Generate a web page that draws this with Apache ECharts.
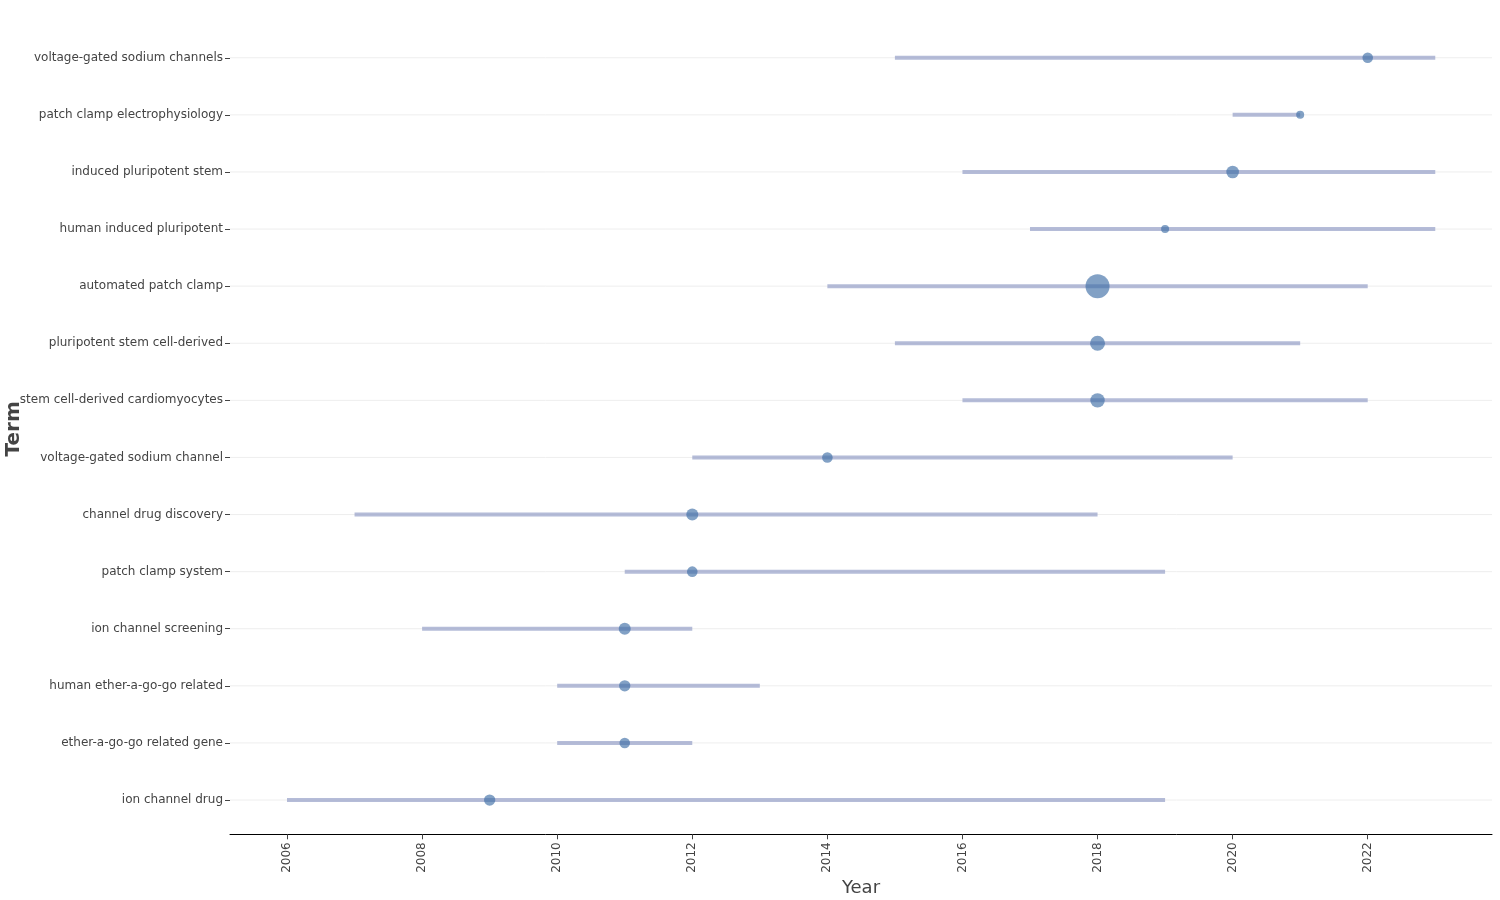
<!DOCTYPE html>
<html>
<head>
<meta charset="utf-8">
<script src="https://cdn.jsdelivr.net/npm/echarts@6/dist/echarts.min.js"></script>
<style>html,body{margin:0;padding:0;background:#fff;}#c{width:1500px;height:900px;}</style>
</head>
<body>
<div id="c"></div>
<script>
// Terms listed bottom to top
const terms = ['ion channel drug','ether-a-go-go related gene','human ether-a-go-go related','ion channel screening','patch clamp system','channel drug discovery','voltage-gated sodium channel','stem cell-derived cardiomyocytes','pluripotent stem cell-derived','automated patch clamp','human induced pluripotent','induced pluripotent stem','patch clamp electrophysiology','voltage-gated sodium channels'];
const startYear = [2006,2010,2010,2008,2011,2007,2012,2016,2015,2014,2017,2016,2020,2015];
const endYear   = [2019,2012,2013,2012,2019,2018,2020,2022,2021,2022,2023,2023,2021,2023];
const peakYear  = [2009,2011,2011,2011,2012,2012,2014,2018,2018,2018,2019,2020,2021,2022];
const peakCount = [8,7,8,9,7,9,7,13,14,36,4,10,4,7];
const yearTicks = [2006,2008,2010,2012,2014,2016,2018,2020,2022];

const FONT = 'DejaVu Sans';
const chart = echarts.init(document.getElementById('c'));
const rangeData = terms.map((t,i)=>[startYear[i], endYear[i], i]);
const peakData = terms.map((t,i)=>[peakYear[i], i, peakCount[i]]);
const yIdx = terms.map((t,i)=>i);

chart.setOption({
  animation:false,
  backgroundColor:'#fff',
  textStyle:{fontFamily:FONT},
  grid:{left:230,right:8,top:23.5,bottom:65.7,containLabel:false,outerBoundsMode:'none'},
  xAxis:{
    type:'value', min:2005.156, max:2023.84,
    name:'Year', nameLocation:'middle', nameGap:45, nameMoveOverlap:false,
    nameTextStyle:{fontSize:18,color:'#444',fontFamily:FONT},
    axisLine:{show:true,onZero:false,lineStyle:{color:'#000',width:1}},
    axisTick:{show:true,length:5,customValues:yearTicks,lineStyle:{color:'#444'}},
    axisLabel:{customValues:yearTicks,rotate:90,margin:8,fontSize:12,color:'#444',fontFamily:FONT,formatter:v=>String(v)},
    splitLine:{show:false}
  },
  yAxis:{
    type:'value', min:-0.6, max:13.6,
    name:'Term', nameLocation:'middle', nameGap:206, nameRotate:90, nameMoveOverlap:false,
    nameTextStyle:{fontSize:20,fontWeight:'bold',color:'#444',fontFamily:FONT},
    axisLine:{show:false,onZero:false},
    axisTick:{show:true,length:5,customValues:yIdx,lineStyle:{color:'#444'}},
    axisLabel:{customValues:yIdx,margin:7,fontSize:12,color:'#444',fontFamily:FONT,formatter:v=>terms[Math.round(v)]},
    splitLine:{show:false}
  },
  series:[
    {
      type:'custom', z:1, silent:true,
      data:rangeData,
      encode:{x:[0,1],y:2},
      renderItem:(params,api)=>{
        const yi = api.value(2);
        const cs = params.coordSys;
        const p0 = api.coord([api.value(0), yi]);
        const p1 = api.coord([api.value(1), yi]);
        return {type:'group',children:[
          {type:'line',shape:{x1:cs.x,y1:p0[1],x2:cs.x+cs.width,y2:p0[1]},style:{stroke:'#eeeeee',lineWidth:1}},
          {type:'line',shape:{x1:p0[0],y1:p0[1],x2:p1[0],y2:p1[1]},style:{stroke:'rgba(150,160,200,0.7)',lineWidth:4,lineCap:'butt'}}
        ]};
      }
    },
    {
      type:'scatter', z:2, silent:true,
      data:peakData,
      symbolSize:v=>4*Math.sqrt(v[2]),
      itemStyle:{color:'rgba(60,108,165,0.8)'}
    }
  ]
});
</script>
</body>
</html>
